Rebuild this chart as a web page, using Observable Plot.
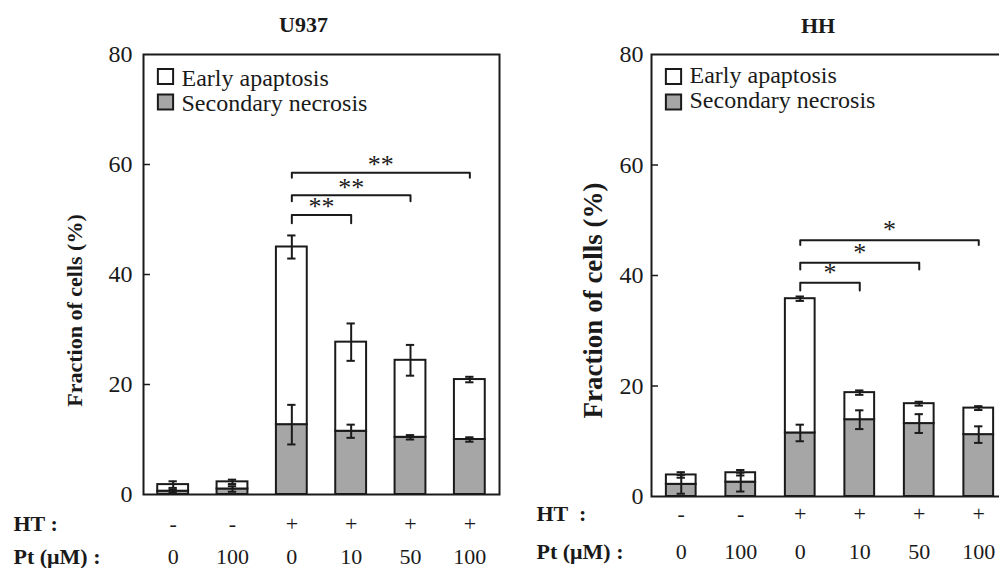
<!DOCTYPE html>
<html>
<head>
<meta charset="utf-8">
<script src="https://cdn.jsdelivr.net/npm/d3@7"></script>
<script src="https://cdn.jsdelivr.net/npm/@observablehq/plot@0.6"></script>
<style>
  html, body { margin: 0; padding: 0; background: white; overflow: hidden; }
  #wrap { position: relative; width: 999px; height: 568px; overflow: hidden; background: white; }
  #wrap svg { position: absolute; top: 0; font-family: "Liberation Serif", "Times New Roman", serif; }
  #wrap svg text { font-family: "Liberation Serif", "Times New Roman", serif; }
</style>
</head>
<body>
<div id="wrap"></div>
<script>
// ---- data ----
const categories = [0, 1, 2, 3, 4, 5];
const htLabels = ["-", "-", "+", "+", "+", "+"];
const ptLabels = ["0", "100", "0", "10", "50", "100"];
const yTicks = [0, 20, 40, 60, 80];
const seriesNames = ["Early apaptosis", "Secondary necrosis"];

// U937
const u937Necrosis    = [0.6, 1.0, 12.7, 11.5, 10.4, 10.0];
const u937NecrosisErr = [0.3, 0.5, 3.6, 1.2, 0.4, 0.4];
const u937Total       = [1.8, 2.3, 45.0, 27.7, 24.4, 20.9];
const u937TotalErr    = [0.6, 0.4, 2.1, 3.4, 2.8, 0.5];
const u937BracketFrom = [2, 2, 2];
const u937BracketTo   = [3, 4, 5];
const u937BracketTop  = [50.8, 54.4, 58.5];
const u937BracketEnd  = [49.3, 53.3, 57.6];
const u937Sig = "**";

// HH
const hhNecrosis    = [2.2, 2.6, 11.5, 13.9, 13.2, 11.2];
const hhNecrosisErr = [1.7, 1.7, 1.5, 1.7, 1.7, 1.5];
const hhTotal       = [3.9, 4.3, 35.8, 18.8, 16.8, 16.0];
const hhTotalErr    = [0.5, 0.5, 0.4, 0.4, 0.35, 0.35];
const hhBracketFrom = [2, 2, 2];
const hhBracketTo   = [3, 4, 5];
const hhBracketTop  = [38.7, 42.3, 46.4];
const hhBracketEnd  = [37.3, 41.1, 45.5];
const hhSig = "*";

const INK = "#1a1a1a";
const GRAY = "#a6a6a6";
const SERIF = "Liberation Serif";

function panel(o) {
  const idx = categories;
  const hw = o.halfWidth, cap = 0.07;
  const brackets = o.from.map((f, i) => ({id: i, f, t: o.to[i], top: o.top[i], end: o.end[i]}));
  const bracketPts = brackets.flatMap(b => [
    {id: b.id, x: b.f, y: b.end}, {id: b.id, x: b.f, y: b.top},
    {id: b.id, x: b.t, y: b.top}, {id: b.id, x: b.t, y: b.end}
  ]);
  const errs = idx.flatMap(i => [
    {x: i, v: o.nec[i], e: o.necErr[i]},
    {x: i, v: o.tot[i], e: o.totErr[i]}
  ]);
  return Plot.plot({
    width: o.width, height: 568,
    marginLeft: o.ml, marginRight: o.mr, marginTop: o.mt, marginBottom: o.mb,
    style: {fontFamily: SERIF, fontSize: "23px", color: INK, background: "transparent", overflow: "visible"},
    x: {domain: [-0.5, 5.5], axis: null},
    y: {domain: [0, 80], axis: null},
    marks: [
      // bars
      Plot.rect(idx, {x1: d => d - hw, x2: d => d + hw, y1: 0, y2: d => o.nec[d], fill: GRAY, stroke: INK, strokeWidth: 2}),
      Plot.rect(idx, {x1: d => d - hw, x2: d => d + hw, y1: d => o.nec[d], y2: d => o.tot[d], fill: "white", stroke: INK, strokeWidth: 2}),
      // error bars
      Plot.ruleX(errs, {x: "x", y1: d => d.v - d.e, y2: d => d.v + d.e, stroke: INK, strokeWidth: 2}),
      Plot.ruleY(errs, {y: d => d.v + d.e, x1: d => d.x - cap, x2: d => d.x + cap, stroke: INK, strokeWidth: 2}),
      Plot.ruleY(errs, {y: d => d.v - d.e, x1: d => d.x - cap, x2: d => d.x + cap, stroke: INK, strokeWidth: 2}),
      // frame
      Plot.frame({stroke: INK, strokeWidth: 2}),
      // y axis
      Plot.axisY({ticks: yTicks, tickSize: 0, tickPadding: o.tickPad, fontSize: 24, fontFamily: SERIF, fontVariant: "normal", label: null}),
      Plot.axisY({ticks: [20, 40, 60], tickSize: 7, dx: 7, text: null, strokeWidth: 1.5, label: null}),
      // y label
      Plot.text([o.ylabel], {frameAnchor: "left", rotate: -90, dx: o.ylabDx, dy: o.ylabDy, fontFamily: SERIF, fontWeight: "bold", fontSize: o.ylabSize, textAnchor: "middle", lineAnchor: "middle"}),
      // title
      Plot.text([o.title], {frameAnchor: "top", dx: o.titleDx, dy: o.titleDy, fontFamily: SERIF, fontWeight: "bold", fontSize: 22, lineAnchor: "middle"}),
      // brackets
      Plot.line(bracketPts, {x: "x", y: "y", z: "id", stroke: INK, strokeWidth: 2}),
      Plot.text(brackets, {x: d => (d.f + d.t) / 2, y: "top", text: () => o.sig, fontFamily: SERIF, fontSize: 26, lineAnchor: "middle", dy: o.starDy}),
      // legend
      Plot.dot([0], {frameAnchor: "top-left", dx: 22, dy: 22, symbol: "square", r: 8.6, fill: "white", stroke: INK, strokeWidth: 2}),
      Plot.dot([0], {frameAnchor: "top-left", dx: 22, dy: 47.5, symbol: "square", r: 8.6, fill: GRAY, stroke: INK, strokeWidth: 2}),
      Plot.text([seriesNames[0]], {frameAnchor: "top-left", dx: 38, dy: o.legDy0, textAnchor: "start", lineAnchor: "middle", fontFamily: SERIF, fontSize: 24}),
      Plot.text([seriesNames[1]], {frameAnchor: "top-left", dx: 38, dy: o.legDy1, textAnchor: "start", lineAnchor: "middle", fontFamily: SERIF, fontSize: 24}),
      // bottom rows
      Plot.text(idx, {x: d => d, frameAnchor: "bottom", dy: o.htDy, text: d => htLabels[d], fontFamily: SERIF, fontSize: 22, lineAnchor: "middle"}),
      Plot.text(idx, {x: d => d, frameAnchor: "bottom", dy: o.ptDy, text: d => ptLabels[d], fontFamily: SERIF, fontSize: 22, lineAnchor: "middle"}),
      Plot.text([o.htLabel], {frameAnchor: "bottom-left", dx: o.rowDx, dy: o.htDy, textAnchor: "start", fontFamily: SERIF, fontWeight: "bold", fontSize: 22, lineAnchor: "middle"}),
      Plot.text(["Pt (μM) :"], {frameAnchor: "bottom-left", dx: o.rowDx, dy: o.ptDy, textAnchor: "start", fontFamily: SERIF, fontWeight: "bold", fontSize: 22, lineAnchor: "middle"})
    ]
  });
}

const left = panel({
  width: 520, ml: 143, mr: 21, mt: 54, mb: 74, halfWidth: 0.26, tickPad: 11,
  nec: u937Necrosis, necErr: u937NecrosisErr, tot: u937Total, totErr: u937TotalErr,
  from: u937BracketFrom, to: u937BracketTo, top: u937BracketTop, end: u937BracketEnd, sig: u937Sig, starDy: -8,
  ylabel: "Fraction of cells (%)", ylabDx: -69, ylabDy: 36, ylabSize: 22,
  title: "U937", titleDx: -18, titleDy: -30,
  legDy0: 24, legDy1: 49,
  htLabel: "HT :", htDy: 29, ptDy: 62, rowDx: -130
});
left.style.left = "0px";

const right = panel({
  width: 520, ml: 151, mr: 12, mt: 54, mb: 72, halfWidth: 0.25, tickPad: 8,
  nec: hhNecrosis, necErr: hhNecrosisErr, tot: hhTotal, totErr: hhTotalErr,
  from: hhBracketFrom, to: hhBracketTo, top: hhBracketTop, end: hhBracketEnd, sig: hhSig, starDy: -10,
  ylabel: "Fraction of cells (%)", ylabDx: -58, ylabDy: 25, ylabSize: 27,
  title: "HH", titleDx: -12, titleDy: -29,
  legDy0: 21, legDy1: 46,
  htLabel: "HT  :", htDy: 17, ptDy: 55, rowDx: -115
});
right.style.left = "500px";

const wrap = document.getElementById("wrap");
wrap.appendChild(left);
wrap.appendChild(right);
</script>
</body>
</html>
